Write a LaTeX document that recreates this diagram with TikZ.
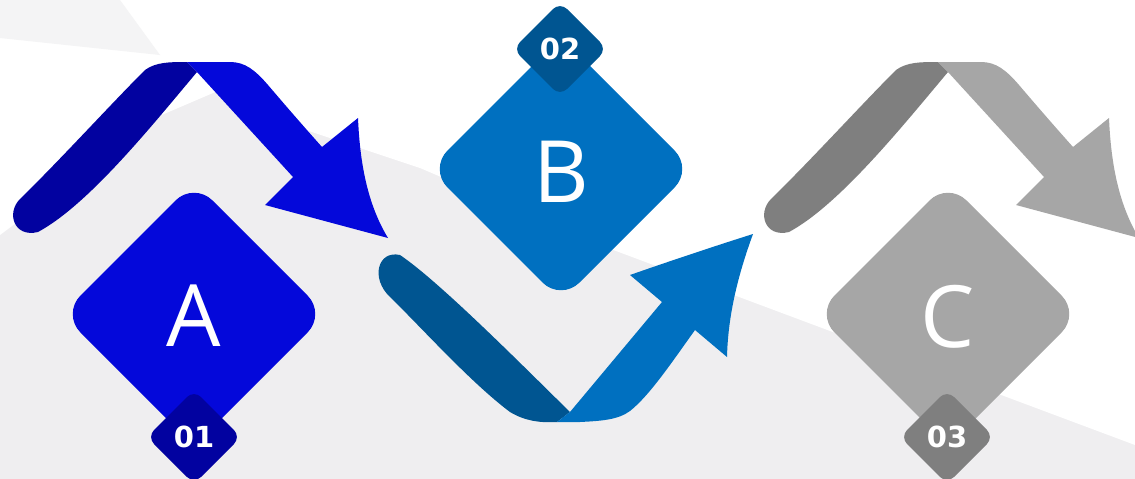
\documentclass[tikz,border=0pt]{standalone}
\usepackage{fontspec}
\setmainfont{Open Sans}
\newfontfamily\digitfont{DejaVu Sans}
\definecolor{blueA}{RGB}{4,8,218}
\definecolor{blueAdark}{RGB}{2,2,160}
\definecolor{blueB}{RGB}{0,112,192}
\definecolor{blueBdark}{RGB}{0,85,145}
\definecolor{grayC}{RGB}{166,166,166}
\definecolor{grayCdark}{RGB}{127,127,127}
\definecolor{bggray}{RGB}{239,238,240}
\definecolor{bgpale}{RGB}{244,244,245}
\newcommand\rdiam[4]{% colour, centre, half diagonal, corner radius
  \fill[#1, rounded corners=#4] (#2) ++({-#3/2},{-#3/2}) -- ++({#3/2},{-#3/2}) -- ++({#3},{#3})
    -- ++({-#3},{#3}) -- ++({-#3},{-#3}) -- cycle;}
\newcommand\ribbonup[2]{% dark colour, light colour
  \fill[#1] (197,72) -- (187,62)
    .. controls (170,62) and (156,62) .. (145,70)
    .. controls (110,105) and (60,160) .. (20,199)
    .. controls (6,213) and (14,238) .. (38,232)
    .. controls (88,205) and (150,128) .. (197,72) -- cycle;
  \fill[#2] (187,62) -- (230,62)
    .. controls (245,62) and (255,70) .. (268,85)
    .. controls (285,105) and (305,128) .. (322,147)
    -- (358,118)
    .. controls (360,165) and (368,205) .. (388,238)
    -- (265,205) -- (293,177)
    .. controls (262,143) and (228,106) .. (197,72) -- cycle;}
\begin{document}
\begin{tikzpicture}[x=1pt,y=-1pt,
  letter/.style={text=white, inner sep=0pt, font=\fontsize{86}{86}\selectfont},
  badgenum/.style={text=white, inner sep=0pt, font=\digitfont\bfseries\fontsize{29}{29}\selectfont}]
\useasboundingbox (0,0) rectangle (1135,479);
\clip (0,0) rectangle (1135,479);
% background
\fill[bggray] (0,0) rectangle (1135,479);
\fill[white] (0,0) -- (1135,0) -- (1135,445) -- (600,245) -- (420,168) -- (300,128)
  -- (220,90) -- (150,120) -- (60,190) -- (0,235) -- cycle;
\fill[bgpale] (0,0) -- (120,0) -- (160,55) -- (0,38) -- cycle;
% ribbon arrows
\ribbonup{blueAdark}{blueA}
\begin{scope}[shift={(751,0)}]
  \ribbonup{grayCdark}{grayC}
\end{scope}
\fill[blueBdark] (570,412) -- (557,422)
  .. controls (540,423) and (525,421) .. (510,412)
  .. controls (470,382) and (420,326) .. (390,297)
  .. controls (370,278) and (378,250) .. (400,255)
  .. controls (440,282) and (525,368) .. (570,412) -- cycle;
\fill[blueB] (557,422) -- (570,412) -- (662,302) -- (630,275)
  .. controls (670,261) and (715,246) .. (753,234)
  .. controls (738,275) and (728,315) .. (727,357)
  -- (695,330)
  .. controls (672,362) and (650,395) .. (630,411)
  .. controls (618,420) and (600,421) .. (580,422) -- cycle;
% diamonds
\rdiam{blueA}{194,314}{132}{26pt}
\rdiam{blueB}{561,169}{132}{26pt}
\rdiam{grayC}{948,314}{132}{26pt}
\rdiam{blueAdark}{194,437}{47}{10pt}
\rdiam{blueBdark}{560,49}{47}{10pt}
\rdiam{grayCdark}{947,437}{47}{10pt}
% labels
\node[letter] (A) at (194,316) {A};
\node[letter] (B) at (561,172) {B};
\node[letter] (C) at (948,317) {C};
\node[badgenum] (n1) at (194,437) {01};
\node[badgenum] (n2) at (560,49) {02};
\node[badgenum] (n3) at (947,437) {03};
\end{tikzpicture}
\end{document}
